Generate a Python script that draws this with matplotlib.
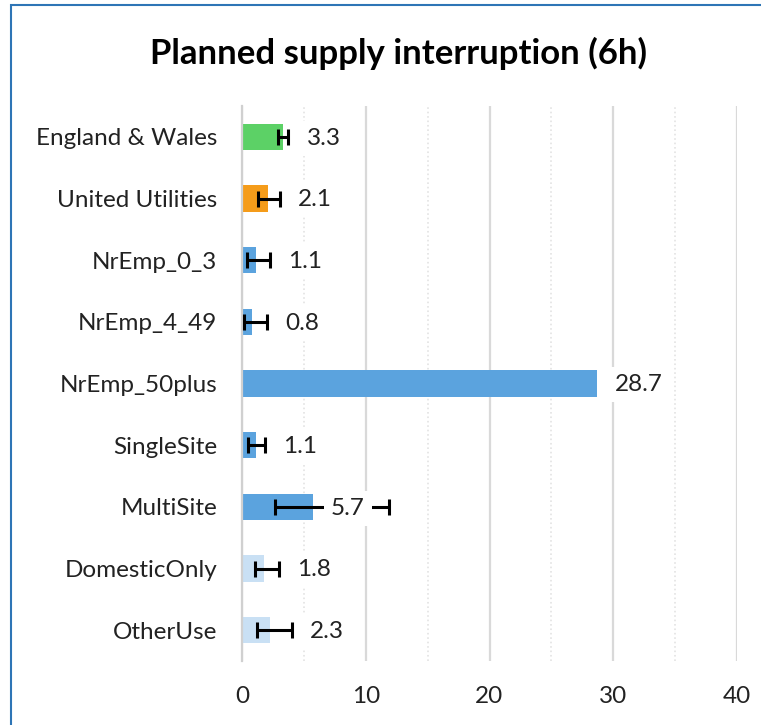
import matplotlib
matplotlib.use("Agg")
import matplotlib.pyplot as plt
from matplotlib.patches import Rectangle
from matplotlib.ticker import MultipleLocator

categories = ["England & Wales", "United Utilities", "NrEmp_0_3", "NrEmp_4_49",
              "NrEmp_50plus", "SingleSite", "MultiSite", "DomesticOnly", "OtherUse"]
values = [3.3, 2.1, 1.1, 0.8, 28.7, 1.1, 5.7, 1.8, 2.3]
err_low = [2.9, 1.3, 0.4, 0.15, 28.7, 0.5, 2.7, 1.05, 1.25]
err_high = [3.75, 3.05, 2.3, 2.05, 28.7, 1.85, 11.9, 2.95, 4.05]
colors = ["#5CD166", "#F59C1A", "#5BA3DE", "#5BA3DE", "#5BA3DE",
          "#5BA3DE", "#5BA3DE", "#C9E0F4", "#C9E0F4"]
x_ticks = [0, 10, 20, 30, 40]

FONT = "Lato"
FS = 17.5
fig = plt.figure(figsize=(7.61, 7.25), dpi=100)
ax = fig.add_axes([242/761, 1 - 661/725, (737-242)/761, (661-106)/725])

ypos = list(range(len(categories)))
ax.barh(ypos, values, height=0.43, color=colors, zorder=2)
xerr = [[v - lo for v, lo in zip(values, err_low)],
        [hi - v for v, hi in zip(values, err_high)]]
has_err = [hi > lo for lo, hi in zip(err_low, err_high)]
for i in ypos:
    if has_err[i]:
        ax.errorbar(values[i], i, xerr=[[xerr[0][i]], [xerr[1][i]]], fmt="none",
                    ecolor="black", elinewidth=2.2, capsize=5.5, capthick=2.2, zorder=3)

trans_off = matplotlib.transforms.offset_copy
for i in ypos:
    anchor = err_high[i] if (err_high[i] - values[i]) < 3 else values[i]
    t = trans_off(ax.transData, fig=fig, x=13, y=-1, units="points")
    ax.text(anchor, i, f"{values[i]:.1f}", transform=t, va="center", ha="left",
            fontsize=FS, family=FONT, color="#222222", zorder=4,
            bbox=dict(facecolor="white", edgecolor="none", pad=5))

ax.set_xlim(0, 40)
ax.set_ylim(len(categories) - 0.5, -0.5)
ax.set_yticks(ypos)
ax.set_yticklabels(categories, family=FONT, fontsize=FS, color="#222222")
ax.set_xticks(x_ticks)
ax.set_xticklabels([str(t) for t in x_ticks], family=FONT, fontsize=FS, color="#222222")
ax.xaxis.set_minor_locator(MultipleLocator(5))
ax.grid(axis="x", which="major", color="#D9D9D9", linewidth=1.6, zorder=0)
ax.grid(axis="x", which="minor", color="#E3E3E3", linewidth=1.2, linestyle=":", zorder=0)
ax.tick_params(axis="both", which="both", length=0)
ax.tick_params(axis="x", pad=18)
ax.tick_params(axis="y", pad=18)
for s in ["top", "right", "bottom"]:
    ax.spines[s].set_visible(False)
ax.spines["left"].set_color("#D0D0D0")
ax.spines["left"].set_linewidth(1.6)
ax.set_axisbelow(True)

fig.text(398/761, 1 - 53/725, "Planned supply interruption (6h)", ha="center", va="center",
         family=FONT, fontsize=25, fontweight="bold", color="black")

fig.patches.append(Rectangle((11/761, -0.1), 1.2, 1 - 5/725 + 0.1, transform=fig.transFigure,
                             fill=False, edgecolor="#2E75B6", linewidth=1.5))

fig.savefig("out.png", dpi=100)
